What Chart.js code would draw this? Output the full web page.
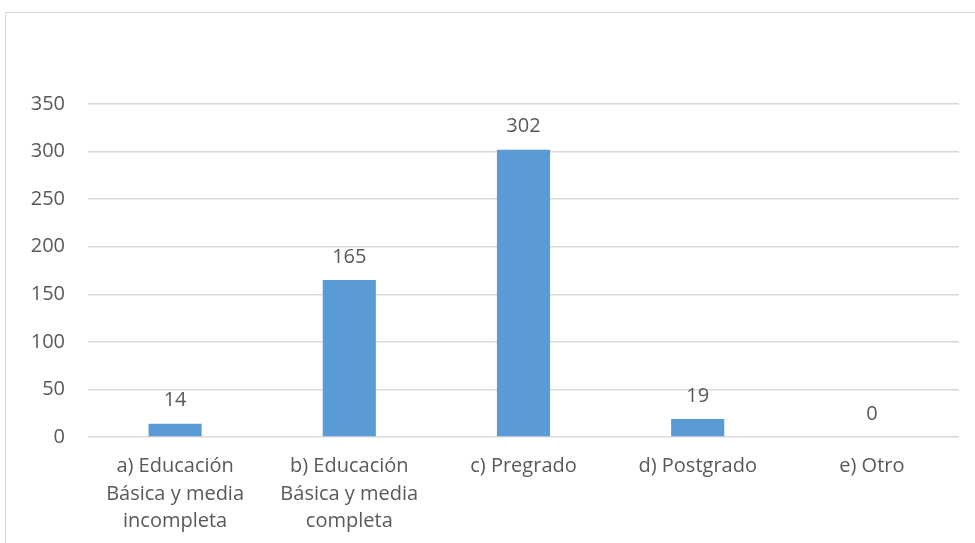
<!DOCTYPE html>
<html>
<head>
<meta charset="utf-8">
<script src="https://cdn.jsdelivr.net/npm/chart.js@4/dist/chart.umd.min.js"></script>
<style>
  html, body { margin: 0; padding: 0; background: #ffffff; }
  #wrap { position: relative; width: 975px; height: 543px; overflow: hidden; }
  #frame { position: absolute; left: 5px; top: 12px; width: 990px; height: 560px;
           border: 1px solid #d9d9d9; box-sizing: border-box; }
  canvas { position: absolute; left: 0; top: 0; }
</style>
</head>
<body>
<div id="wrap">
  <div id="frame"></div>
  <canvas id="chart" width="975" height="543"></canvas>
</div>
<script>
// Nivel educativo: categorías y número de personas
const categories = [
  ['a) Educación', 'Básica y media', 'incompleta'],
  ['b) Educación', 'Básica y media', 'completa'],
  'c) Pregrado',
  'd) Postgrado',
  'e) Otro'
];
const counts = [14, 165, 302, 19, 0];
const yTicks = [0, 50, 100, 150, 200, 250, 300, 350];

const textColor = '#595959';
const fontFamily = "'Open Sans', 'Noto Sans', sans-serif";

// Escribe el valor encima de cada barra
const valueLabels = {
  id: 'valueLabels',
  afterDatasetsDraw(chart) {
    const ctx = chart.ctx;
    const meta = chart.getDatasetMeta(0);
    ctx.save();
    ctx.fillStyle = textColor;
    ctx.font = '20px ' + fontFamily;
    ctx.textAlign = 'center';
    ctx.textBaseline = 'middle';
    meta.data.forEach((bar, i) => {
      ctx.fillText(String(counts[i]), bar.x, bar.y - 23);
    });
    ctx.restore();
  }
};

new Chart(document.getElementById('chart'), {
  type: 'bar',
  data: {
    labels: categories,
    datasets: [{
      data: counts,
      backgroundColor: '#5b9bd5',
      borderWidth: 0,
      barPercentage: 0.61,
      categoryPercentage: 0.5
    }]
  },
  options: {
    responsive: false,
    animation: false,
    devicePixelRatio: 1,
    layout: { padding: { top: 104, right: 16, left: 0, bottom: 0 } },
    plugins: { legend: { display: false }, tooltip: { enabled: false } },
    scales: {
      x: {
        grid: { display: false, drawTicks: false },
        border: { display: false },
        ticks: {
          color: textColor,
          padding: 16,
          maxRotation: 0,
          autoSkip: false,
          font: { family: fontFamily, size: 20, lineHeight: 1.375 }
        },
        afterFit(scale) { scale.height = 106; }
      },
      y: {
        min: 0,
        max: 350,
        afterBuildTicks(scale) { scale.ticks = yTicks.map(v => ({ value: v })); },
        grid: { color: '#d9d9d9', lineWidth: 1.5, drawTicks: false },
        border: { display: false },
        ticks: {
          color: textColor,
          padding: 23,
          font: { family: fontFamily, size: 20 }
        },
        afterFit(scale) { scale.width = 88; }
      }
    }
  },
  plugins: [valueLabels]
});
</script>
</body>
</html>
